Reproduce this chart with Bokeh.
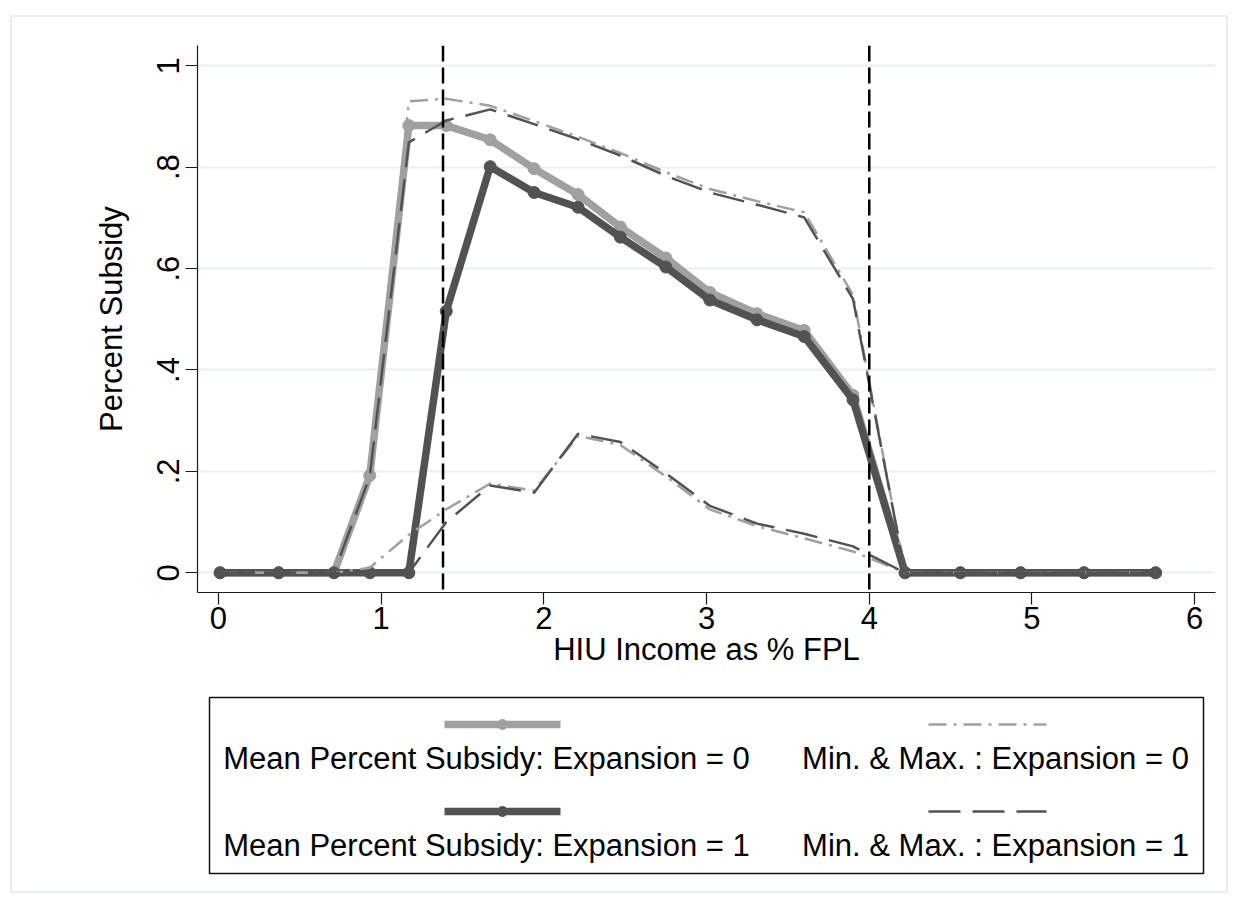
from bokeh.plotting import figure
from bokeh.models import Range1d, FixedTicker, Span, Spacer
from bokeh.layouts import column, row
from bokeh.embed import file_html
from bokeh.resources import INLINE
from bokeh.core.properties import value

# ---------------- data ----------------
income = [0.01, 0.37, 0.71, 0.93, 1.17, 1.40, 1.67, 1.94, 2.21, 2.47,
          2.75, 3.02, 3.31, 3.60, 3.90, 4.22, 4.56, 4.93, 5.32, 5.76]
mean_exp0 = [0, 0, 0, 0.192, 0.882, 0.882, 0.854, 0.797, 0.746, 0.682,
             0.621, 0.553, 0.511, 0.478, 0.350, 0, 0, 0, 0, 0]
mean_exp1 = [0, 0, 0, 0, 0, 0.516, 0.801, 0.750, 0.721, 0.662,
             0.603, 0.538, 0.499, 0.466, 0.341, 0, 0, 0, 0, 0]
min_exp0 = [0, 0, 0, 0.01, 0.075, 0.125, 0.176, 0.162, 0.270, 0.252,
            0.190, 0.125, 0.092, 0.068, 0.042, 0, 0, 0, 0, 0]
max_exp0 = [0, 0, 0, 0.19, 0.930, 0.935, 0.921, 0.891, 0.860, 0.828,
            0.790, 0.757, 0.733, 0.711, 0.548, 0, 0, 0, 0, 0]
min_exp1 = [0, 0, 0, 0, 0, 0.100, 0.172, 0.158, 0.274, 0.258,
            0.196, 0.132, 0.097, 0.077, 0.052, 0, 0, 0, 0, 0]
max_exp1 = [0, 0, 0, 0.19, 0.849, 0.892, 0.914, 0.885, 0.855, 0.823,
            0.783, 0.750, 0.726, 0.701, 0.540, 0, 0, 0, 0, 0]
ref_lines = [1.38, 4.0]
x_ticks = [0, 1, 2, 3, 4, 5, 6]
x_tick_labels = ["0", "1", "2", "3", "4", "5", "6"]
y_ticks = [0, 0.2, 0.4, 0.6, 0.8, 1]
y_tick_labels = ["0", ".2", ".4", ".6", ".8", "1"]
x_title = "HIU Income as % FPL"
y_title = "Percent Subsidy"
legend_labels = ["Mean Percent Subsidy: Expansion = 0",
                 "Min. & Max. : Expansion = 0",
                 "Mean Percent Subsidy: Expansion = 1",
                 "Min. & Max. : Expansion = 1"]

# ---------------- style ----------------
FONT = "Liberation Sans"
FS = "31px"
LIGHT = "#a0a0a0"
DARK = "#525252"
GRID = "#e8eff1"
MEAN_W = 7.5
MM_W = 2.5
DASHDOT = "18 7 3 7"
LONGDASH = "32 12"

# page geometry (inner area starts at page x=12, y=17)
FRAME_L, FRAME_R = 197, 1215
INNER_L, INNER_R = 12, 1226
MB_L = FRAME_L - INNER_L
MB_R = INNER_R - FRAME_R
FRAME_W = FRAME_R - FRAME_L

p = figure(frame_width=FRAME_W, frame_height=547,
           x_range=Range1d(-0.129, 6.128), y_range=Range1d(-0.0389, 1.040),
           toolbar_location=None, output_backend="svg",
           min_border_left=MB_L, min_border_right=MB_R,
           min_border_top=28, min_border_bottom=88)
p.outline_line_color = None
p.background_fill_color = "white"
p.border_fill_color = "white"
p.xgrid.visible = False
p.ygrid.ticker = FixedTicker(ticks=y_ticks)
p.ygrid.grid_line_color = GRID
p.ygrid.grid_line_width = 2

for ax in (p.xaxis[0], p.yaxis[0]):
    ax.axis_line_color = "#1a1a1a"
    ax.axis_line_width = 1.2
    ax.major_tick_line_color = "#1a1a1a"
    ax.major_tick_line_width = 1.2
    ax.major_tick_out = 12
    ax.major_tick_in = 0
    ax.minor_tick_line_color = None
    ax.major_label_text_font = FONT
    ax.major_label_text_font_size = FS
    ax.major_label_text_color = "black"
    ax.axis_label_text_font = FONT
    ax.axis_label_text_font_size = FS
    ax.axis_label_text_font_style = "normal"
    ax.axis_label_text_color = "black"

p.xaxis.ticker = FixedTicker(ticks=x_ticks)
p.xaxis.major_label_overrides = dict(zip(x_ticks, x_tick_labels))
p.xaxis.axis_label = x_title
p.xaxis.major_label_standoff = 2
p.xaxis.axis_label_standoff = 0

p.yaxis.ticker = FixedTicker(ticks=y_ticks)
p.yaxis.major_label_overrides = dict(zip(y_ticks, y_tick_labels))
p.yaxis.major_label_orientation = "vertical"
p.yaxis.axis_label = y_title
p.yaxis.major_label_standoff = 6
p.yaxis.axis_label_standoff = 26

# mean lines
p.line(income, mean_exp0, line_color=LIGHT, line_width=MEAN_W)
p.scatter(income, mean_exp0, size=12, fill_color=LIGHT, line_color=LIGHT)
p.line(income, mean_exp1, line_color=DARK, line_width=MEAN_W)
p.scatter(income, mean_exp1, size=12, fill_color=DARK, line_color=DARK)
# min / max lines
for ys in (min_exp0, max_exp0):
    p.line(income, ys, line_color=LIGHT, line_width=MM_W, line_dash=DASHDOT)
for ys in (min_exp1, max_exp1):
    p.line(income, ys, line_color=DARK, line_width=MM_W, line_dash=LONGDASH)

for xv in ref_lines:
    p.add_layout(Span(location=xv, dimension="height", line_color="black",
                      line_width=2.5, line_dash="16 6"))

# ---------------- legend panel (page-pixel coordinates) ----------------
LY0, LY1 = 680, 891
lg = figure(frame_width=FRAME_W, frame_height=LY1 - LY0,
            x_range=Range1d(FRAME_L, FRAME_R), y_range=Range1d(LY1, LY0),
            toolbar_location=None, output_backend="svg",
            min_border_left=MB_L, min_border_right=MB_R,
            min_border_top=0, min_border_bottom=0)
lg.axis.visible = False
lg.grid.visible = False
lg.outline_line_color = None
lg.background_fill_color = "white"
lg.border_fill_color = "white"

box = dict(left=209, right=1203, top=697, bottom=873)
lg.quad(left=[box["left"]], right=[box["right"]], top=[box["top"]],
        bottom=[box["bottom"]], fill_color=None, line_color="#111111",
        line_width=1.5)

key_x = [(444, 560), (928, 1046)]
key_y = [724, 811]
text_x = [486, 995]
text_y = [758, 845]
styles = [("mean", LIGHT), ("mm", LIGHT, DASHDOT),
          ("mean", DARK), ("mm", DARK, LONGDASH)]
for i, lab in enumerate(legend_labels):
    r, c = divmod(i, 2)
    x0, x1 = key_x[c]
    st = styles[i]
    if st[0] == "mean":
        lg.line([x0, x1], [key_y[r], key_y[r]], line_color=st[1], line_width=MEAN_W)
        lg.scatter([(x0 + x1) / 2], [key_y[r]], size=10, fill_color=st[1], line_color=st[1])
    else:
        lg.line([x0, x1], [key_y[r], key_y[r]], line_color=st[1], line_width=MM_W,
                line_dash=st[2])
    lg.text([text_x[c]], [text_y[r]], text=[lab], text_font=value(FONT),
            text_font_size=FS, text_align="center", text_baseline="middle",
            text_color="black")

inner = column(p, lg, styles={"border": "2px solid #e6eef1"})
layout = column(Spacer(height=15), row(Spacer(width=10), inner))

open("out.html", "w").write(file_html(layout, INLINE))
